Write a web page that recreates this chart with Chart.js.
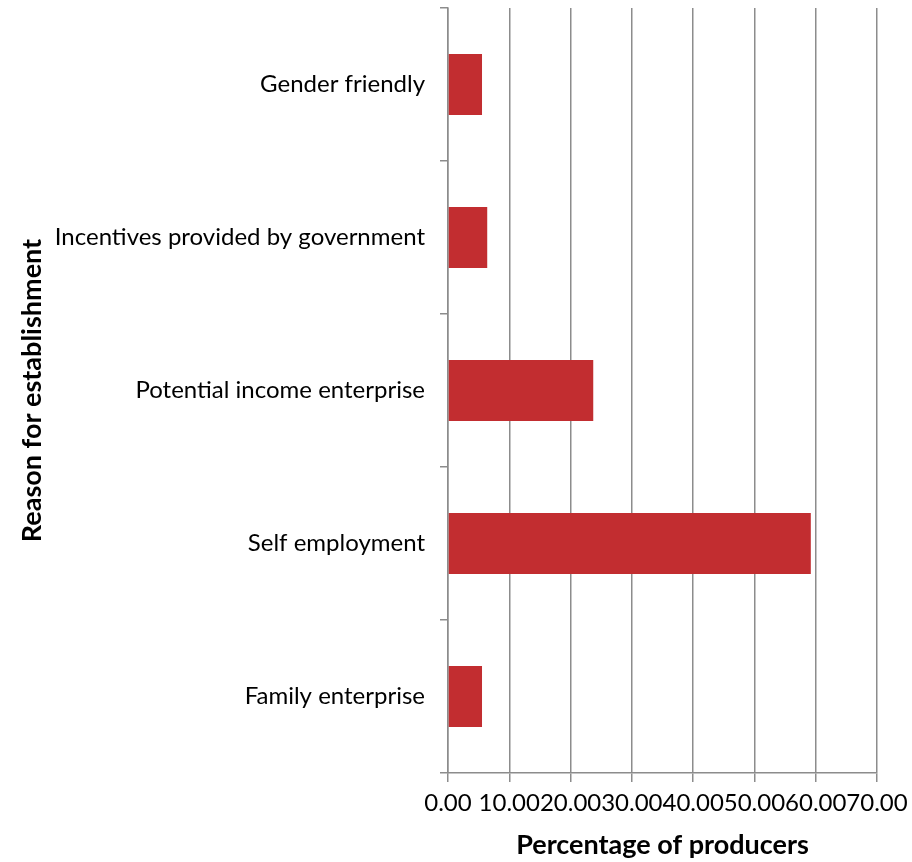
<!DOCTYPE html>
<html>
<head>
<meta charset="utf-8">
<script src="https://cdn.jsdelivr.net/npm/chart.js@4/dist/chart.umd.min.js"></script>
<style>
  html, body { margin: 0; padding: 0; background: #fff; }
  #wrap { width: 912px; height: 862px; }
</style>
</head>
<body>
<div id="wrap"><canvas id="reason-chart" width="912" height="862"></canvas></div>
<script>
const reasons = ['Gender friendly', 'Incentives provided by government', 'Potential income enterprise', 'Self employment', 'Family enterprise'];
const producerShare = [5.55, 6.4, 23.7, 59.2, 5.55];
const xTicks = [0, 10, 20, 30, 40, 50, 60, 70];

const fontName = 'Lato';
const gridGrey = '#8c8c8c';

const chartCanvas = document.querySelector('#reason-chart');

new Chart(chartCanvas.getContext('2d'), {
    type: 'bar',
    data: {
        labels: reasons,
        datasets: [{
            label: 'Percentage of producers',
            data: producerShare,
            backgroundColor: '#c22d30',
            borderWidth: 0,
            barPercentage: 0.4,
            categoryPercentage: 1.0
        }]
    },
    options: {
        indexAxis: 'y',
        responsive: false,
        animation: false,
        layout: { padding: { top: 8, right: 35, bottom: 0, left: 0 } },
        plugins: {
            legend: { display: false },
            tooltip: { enabled: false }
        },
        scales: {
            x: {
                min: 0,
                max: 70,
                afterBuildTicks: scale => { scale.ticks = xTicks.map(v => ({ value: v })); },
                afterFit: scale => {
                    scale.height = 89;
                    scale.paddingLeft = 0;
                    scale.paddingRight = 0;
                },
                grid: {
                    color: gridGrey,
                    lineWidth: 1.5,
                    tickLength: 9,
                    drawTicks: true
                },
                border: { color: gridGrey, width: 1.5 },
                ticks: {
                    color: '#000',
                    padding: 7,
                    maxRotation: 0,
                    autoSkip: false,
                    font: { family: fontName, size: 24 },
                    callback: v => Number(v).toFixed(2)
                },
                title: {
                    display: true,
                    text: 'Percentage of producers',
                    color: '#000',
                    font: { family: fontName, size: 27, weight: 'bold' },
                    padding: { top: 0, bottom: 1 }
                }
            },
            y: {
                afterFit: scale => {
                    scale.width = 448;
                    scale.paddingTop = 0;
                    scale.paddingBottom = 0;
                },
                grid: {
                    offset: true,
                    drawOnChartArea: false,
                    drawTicks: true,
                    tickLength: 8,
                    color: gridGrey,
                    lineWidth: 1.5
                },
                border: { color: gridGrey, width: 1.5 },
                ticks: {
                    color: '#000',
                    padding: 15,
                    autoSkip: false,
                    font: { family: fontName, size: 24 }
                },
                title: {
                    display: true,
                    text: 'Reason for establishment',
                    color: '#000',
                    font: { family: fontName, size: 27, weight: 'bold' },
                    padding: { top: 16, bottom: 0 }
                }
            }
        }
    }
});
</script>
</body>
</html>
